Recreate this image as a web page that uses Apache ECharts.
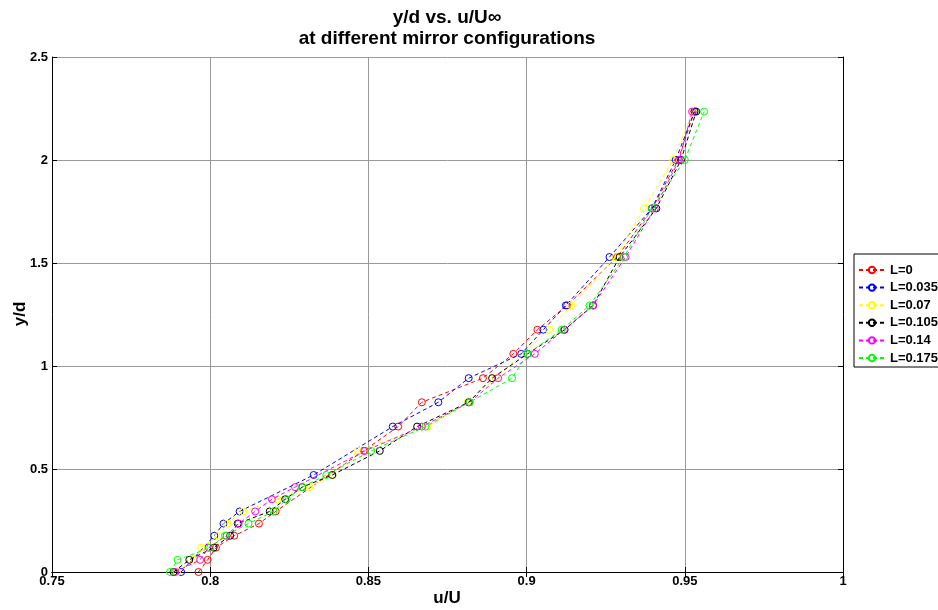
<!DOCTYPE html>
<html>
<head>
<meta charset="utf-8">
<script src="https://cdn.jsdelivr.net/npm/echarts@6/dist/echarts.min.js"></script>
<style>html,body{margin:0;padding:0;background:#fff}#c{width:938px;height:610px}</style>
</head>
<body>
<div id="c"></div>
<script>
// y/d levels (shared by all series)
var yLevels = [0,0.059,0.118,0.176,0.235,0.294,0.353,0.412,0.471,0.588,0.706,0.824,0.941,1.059,1.176,1.294,1.529,1.765,2.0,2.235];
// u/U values per configuration (null = no marker at that level)
var uL0     = [0.7963,0.7992,0.8018,0.8076,0.8154,0.8207,null,null,null,0.8485,0.8594,0.8669,0.8862,0.8958,0.9034,0.9128,0.9286,0.9397,0.9479,0.9530];
var uL0035  = [0.7908,null,null,0.8013,0.8042,0.8093,null,null,0.8327,null,0.8577,0.8721,0.8817,0.8983,0.9053,0.9124,0.9262,0.9396,0.9471,0.9531];
var uL007   = [0.7895,0.7950,0.7972,0.8026,0.8054,0.8105,0.8213,0.8314,0.8387,0.8467,0.8687,0.8813,0.8903,null,0.9071,0.9141,0.9282,0.9371,0.9463,0.9526];
var uL0105  = [0.7884,0.7934,0.8011,0.8063,0.8087,0.8188,0.8237,0.8291,0.8386,0.8536,0.8654,0.8817,0.8891,0.9003,0.9120,0.9210,0.9294,0.9410,0.9488,0.9536];
var uL014   = [0.7889,0.7968,0.7995,0.8052,0.8090,0.8142,0.8195,0.8268,null,0.8489,0.8669,0.8820,0.8910,0.9026,0.9118,0.9210,0.9313,0.9405,0.9482,0.9523];
var uL0175  = [0.7873,0.7897,0.8000,0.8047,0.8121,0.8200,0.8242,0.8290,0.8367,0.8509,0.8680,0.8820,0.8954,0.9003,0.9111,0.9199,0.9308,0.9396,0.9500,0.9561];
var seriesNames = ['L=0','L=0.035','L=0.07','L=0.105','L=0.14','L=0.175'];
var seriesU = [uL0,uL0035,uL007,uL0105,uL014,uL0175];
var colors = ['#ff0000','#0000ff','#ffff00','#000000','#ff00ff','#00ff00'];
var titleLines = ['y/d vs. u/U\u221e','at different mirror configurations'];
var xName = 'u/U', yName = 'y/d';

var FONT = 'Liberation Sans, Arial, sans-serif';
var G = {left:52, top:57, width:791, height:515};

function pairs(u){
  var out=[];
  for (var i=0;i<u.length;i++){ if(u[i]!==null) out.push([u[i], yLevels[i]]); }
  return out;
}

var series = seriesNames.map(function(n,i){
  return {
    name:n, type:'line', data:pairs(seriesU[i]),
    symbol:'circle', symbolSize:7, showSymbol:true,
    lineStyle:{color:colors[i], width:1, type:[4,3]},
    itemStyle:{color:'rgba(255,255,255,0)', borderColor:colors[i], borderWidth:1},
    emphasis:{disabled:true}, animation:false, z:2+i
  };
});

var axisLbl = {color:'#000', fontWeight:'bold', fontSize:13, fontFamily:FONT};
function fmt(v){ return String(+v.toFixed(2)); }

var option = {
  backgroundColor:'#fff',
  animation:false,
  grid:{left:G.left, top:G.top, width:G.width, height:G.height, containLabel:false},
  xAxis:[{
    type:'value', min:0.75, max:1, interval:0.05, position:'bottom',
    axisLine:{show:true, lineStyle:{color:'#000', width:1}},
    axisTick:{show:true, inside:true, length:5, lineStyle:{color:'#000'}},
    axisLabel:Object.assign({margin:3, formatter:fmt}, axisLbl),
    splitLine:{show:true, lineStyle:{color:'#999', width:1}}
  },{
    type:'value', min:0.75, max:1, interval:0.05, position:'top',
    axisLine:{show:true, lineStyle:{color:'#000', width:1}},
    axisTick:{show:true, inside:true, length:5, lineStyle:{color:'#000'}},
    axisLabel:{show:false}, splitLine:{show:false}
  }],
  yAxis:[{
    type:'value', min:0, max:2.5, interval:0.5, position:'left',
    axisLine:{show:true, lineStyle:{color:'#000', width:1}},
    axisTick:{show:true, inside:true, length:5, lineStyle:{color:'#000'}},
    axisLabel:Object.assign({margin:4, formatter:fmt}, axisLbl),
    splitLine:{show:true, lineStyle:{color:'#999', width:1}}
  },{
    type:'value', min:0, max:2.5, interval:0.5, position:'right',
    axisLine:{show:true, lineStyle:{color:'#000', width:1}},
    axisTick:{show:true, inside:true, length:5, lineStyle:{color:'#000'}},
    axisLabel:{show:false}, splitLine:{show:false}
  }],
  legend:{
    orient:'vertical', left:854, top:254,
    backgroundColor:'#fff', borderColor:'#000', borderWidth:1,
    padding:[9,6,2,4], itemGap:3.6, itemWidth:26, itemHeight:8,
    textStyle:{color:'#000', fontWeight:'bold', fontSize:13, fontFamily:FONT, lineHeight:14},
    data:seriesNames
  },
  graphic:[
    {type:'text', x:447, y:18, style:{text:titleLines[0], font:'bold 19px '+FONT, fill:'#000', align:'center', verticalAlign:'middle'}},
    {type:'text', x:447, y:39, style:{text:titleLines[1], font:'bold 19px '+FONT, fill:'#000', align:'center', verticalAlign:'middle'}},
    {type:'text', x:447, y:598, style:{text:xName, font:'bold 17px '+FONT, fill:'#000', align:'center', verticalAlign:'middle'}},
    {type:'text', x:20, y:314, rotation:Math.PI/2, style:{text:yName, font:'bold 17px '+FONT, fill:'#000', align:'center', verticalAlign:'middle'}}
  ],
  series:series
};

var chart = echarts.init(document.getElementById('c'), null, {renderer:'canvas'});
chart.setOption(option);
</script>
</body>
</html>
